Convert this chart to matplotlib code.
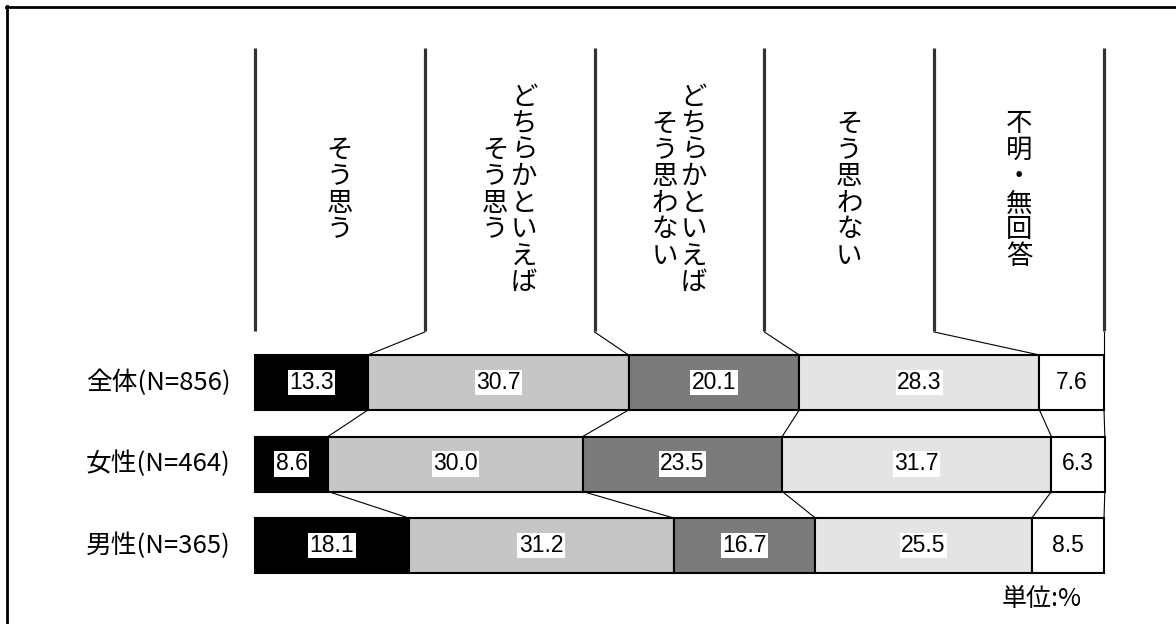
import numpy as np
from matplotlib import pyplot as plt
from matplotlib.lines import Line2D

# data
groups = ['全体(N=856)', '女性(N=464)', '男性(N=365)']
answers = [['そう思う'],
           ['どちらかといえば', 'そう思う'],
           ['どちらかといえば', 'そう思わない'],
           ['そう思わない'],
           ['不明・無回答']]
sou_omou = [13.3, 8.6, 18.1]
dochira_omou = [30.7, 30.0, 31.2]
dochira_omowanai = [20.1, 23.5, 16.7]
sou_omowanai = [28.3, 31.7, 25.5]
fumei = [7.6, 6.3, 8.5]
unit_label = '単位:%'

series = [sou_omou, dochira_omou, dochira_omowanai, sou_omowanai, fumei]
colors = ['#000000', '#c6c6c6', '#7b7b7b', '#e4e4e4', '#ffffff']

jp = ['Noto Sans CJK JP', 'DejaVu Sans']
num = ['Liberation Sans', 'DejaVu Sans']

W, H = 1176, 624
fig = plt.figure(figsize=(W / 100, H / 100), dpi=100)
ax = fig.add_axes([255 / W, 0, 849 / W, 1])
ax.set_xlim(0, 100)
ax.set_ylim(H, 0)  # y in pixel units
ax.axis('off')

row_y = 382.5 + 81.5 * np.arange(len(groups))
bar_h = 55

left = np.zeros(len(groups))
cums = []
for vals, c in zip(series, colors):
    vals = np.array(vals)
    ax.barh(row_y, vals, left=left, height=bar_h, color=c,
            edgecolor='black', linewidth=1.5, clip_on=False)
    for y, l, v in zip(row_y, left, vals):
        ax.text(l + v / 2, y, '{:.1f}'.format(v), ha='center', va='center',
                fontsize=16.5, family=num, color='black',
                bbox=dict(facecolor='white', edgecolor='none', pad=1.0))
    left = left + vals
    cums.append(left.copy())
cums = np.array(cums)  # shape (answers, groups)

# header columns
n = len(answers)
div = np.linspace(0, 100, n + 1)
head_top, head_bot = 48, 331
for d in div:
    ax.plot([d, d], [head_top, head_bot], color='#333333', lw=2.3,
            solid_capstyle='butt', clip_on=False)

pitch = 26.5
text_cy = 190
for k, cols in enumerate(answers):
    cx = (div[k] + div[k + 1]) / 2
    ncol = len(cols)
    for j, col in enumerate(cols):
        # first string is the rightmost column (vertical writing)
        off_px = ((ncol - 1) / 2 - j) * 29
        x = cx + off_px / 8.49
        m = len(col)
        for i, ch in enumerate(col):
            y = text_cy + (i - (m - 1) / 2) * pitch
            ax.text(x, y, ch, ha='center', va='center', fontsize=19,
                    family=jp, color='black')

# connectors from header to first bar
top0 = row_y[0] - bar_h / 2
for k in range(1, n + 1):
    ax.plot([div[k], cums[k - 1, 0]], [head_bot + 1, top0], color='black',
            lw=0.8, clip_on=False)

# connectors between bars
for r in range(len(groups) - 1):
    yb = row_y[r] + bar_h / 2
    yt = row_y[r + 1] - bar_h / 2
    for k in range(n):
        ax.plot([cums[k, r], cums[k, r + 1]], [yb, yt], color='black',
                lw=0.8, clip_on=False)

# group labels
for y, g in zip(row_y, groups):
    ax.text(-2.85, y, g, ha='right', va='center', fontsize=18.5, family=jp)

ax.text(97.4, 599, unit_label, ha='right', va='center', fontsize=18,
        family=jp)

# outer frame (left and top edges)
fig.add_artist(Line2D([7 / W, 7 / W], [0, 1 - 6 / H], color='black', lw=2))
fig.add_artist(Line2D([6 / W, 1], [1 - 7 / H, 1 - 7 / H], color='black', lw=2))

plt.savefig('out.png', dpi=100)
plt.close()
